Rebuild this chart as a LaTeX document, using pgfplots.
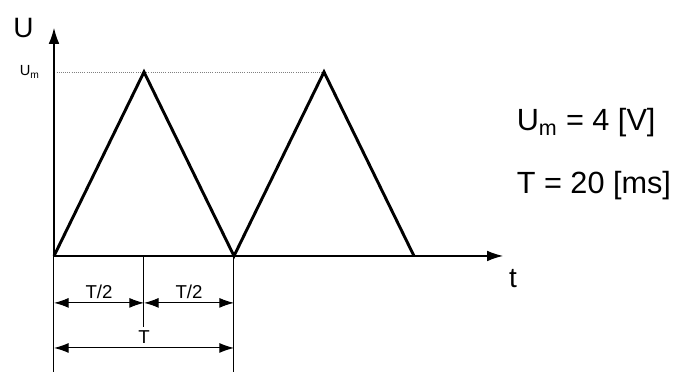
\documentclass[border=0pt]{standalone}
\usepackage{fontspec}
\setmainfont{Liberation Sans}
\usepackage{pgfplots}
\pgfplotsset{compat=1.18}
\usetikzlibrary{arrows.meta}
\begin{document}
\begin{tikzpicture}
\begin{axis}[
    x=6.75pt, y=34.5pt,
    xmin=0, xmax=49.9,
    ymin=0, ymax=4.96,
    axis lines=left,
    axis line style={line width=1pt, -{Latex[length=12pt,width=8pt]}},
    xtick=\empty, ytick=\empty,
    clip=false,
]
% invisible frame that sets the page size
\path (axis cs:-6,-2.522) rectangle (axis cs:69.67,5.565);
% guide at U_m
\addplot[gray, densely dotted, line width=0.6pt] coordinates {(0.3,4)(30,4)};
% triangle wave, U_m = 4 V, T = 20 ms
\addplot[black, line width=2.2pt, line join=miter] coordinates {(0,0)(10,4)(20,0)(30,4)(40,0)};
% labels
\node[font=\fontsize{21}{24}\selectfont] at (axis cs:-3.4,4.95) {U};
\node[font=\fontsize{11}{13}\selectfont] at (axis cs:-2.7,4) {U\textsubscript{m}};
\node[font=\fontsize{21}{24}\selectfont] at (axis cs:51,-0.5) {t};
\node[anchor=west, font=\fontsize{23}{27}\selectfont] at (axis cs:50.9,2.89) {U\textsubscript{m} = 4 [V]};
\node[anchor=west, font=\fontsize{23}{27}\selectfont] at (axis cs:50.9,1.54) {T = 20 [ms]};
% dimension lines
\draw[line width=0.75pt] (axis cs:0,0) -- (axis cs:0,-2.522);
\draw[line width=0.75pt] (axis cs:20,0) -- (axis cs:20,-2.522);
\draw[line width=0.75pt] (axis cs:10,0) -- (axis cs:10,-1.54);
\draw[line width=0.75pt, {Latex[length=11pt,width=7.5pt]}-{Latex[length=11pt,width=7.5pt]}] (axis cs:0,-1.02) -- (axis cs:10,-1.02);
\draw[line width=0.75pt, {Latex[length=11pt,width=7.5pt]}-{Latex[length=11pt,width=7.5pt]}] (axis cs:10,-1.02) -- (axis cs:20,-1.02);
\draw[line width=0.75pt, {Latex[length=11pt,width=7.5pt]}-{Latex[length=11pt,width=7.5pt]}] (axis cs:0,-2.0) -- (axis cs:20,-2.0);
\node[font=\fontsize{14}{16}\selectfont] at (axis cs:5,-0.78) {T/2};
\node[font=\fontsize{14}{16}\selectfont] at (axis cs:15,-0.78) {T/2};
\node[font=\fontsize{14}{16}\selectfont] at (axis cs:10,-1.76) {T};
\end{axis}
\end{tikzpicture}
\end{document}
